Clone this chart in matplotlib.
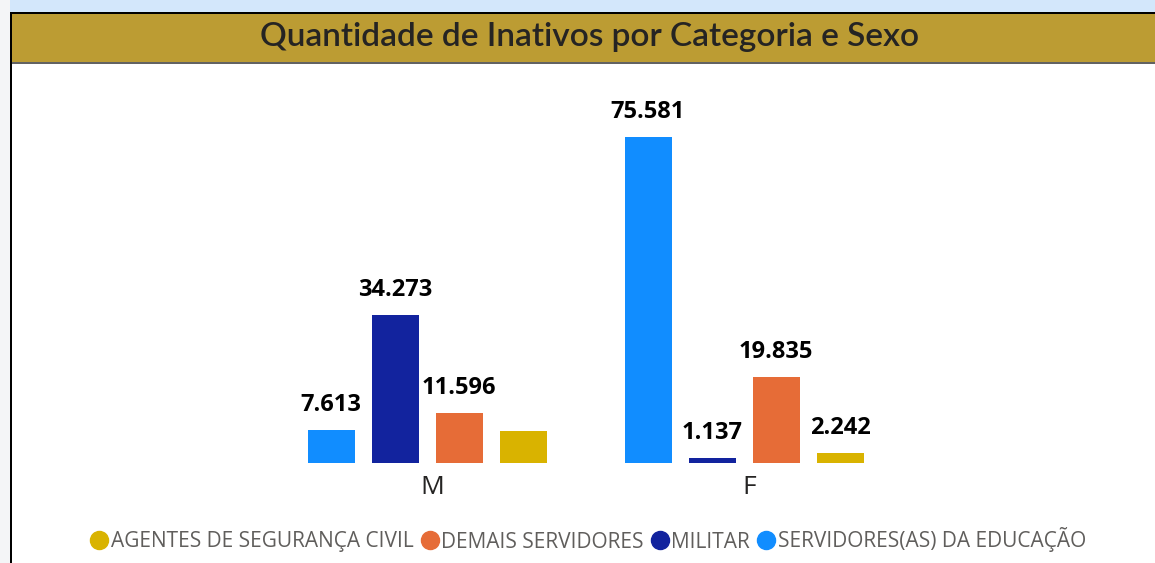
import matplotlib
matplotlib.use("Agg")
import matplotlib.pyplot as plt
import matplotlib.transforms as mtransforms
from matplotlib.patches import Rectangle
from matplotlib.lines import Line2D

# ---- data ----
categories = ["M", "F"]
series_names = ["SERVIDORES(AS) DA EDUCAÇÃO", "MILITAR", "DEMAIS SERVIDORES", "AGENTES DE SEGURANÇA CIVIL"]
servidores_educacao = [7613, 75581]
militar = [34273, 1137]
demais_servidores = [11596, 19835]
agentes_seguranca = [7400, 2242]
label_shown = [[True, True], [True, True], [True, True], [False, True]]
legend_order = ["AGENTES DE SEGURANÇA CIVIL", "DEMAIS SERVIDORES", "MILITAR", "SERVIDORES(AS) DA EDUCAÇÃO"]
title = "Quantidade de Inativos por Categoria e Sexo"

colors = {
    "SERVIDORES(AS) DA EDUCAÇÃO": "#118DFF",
    "MILITAR": "#12239E",
    "DEMAIS SERVIDORES": "#E66C37",
    "AGENTES DE SEGURANÇA CIVIL": "#D9B300",
}

W, H = 1155, 563
fig = plt.figure(figsize=(W / 100, H / 100), dpi=100)
fig.patch.set_facecolor("white")


def rect(x0, y0, x1, y1, color):
    fig.patches.append(Rectangle((x0 / W, 1 - y1 / H), (x1 - x0) / W, (y1 - y0) / H,
                                 transform=fig.transFigure, facecolor=color,
                                 edgecolor="none", zorder=0))


# page background and panel frame
rect(0, 0, W, 12, "#D3E7FB")
rect(0, 0, 10, H, "#F4F5F7")
rect(10, 12, W, 14, "#000000")
rect(10, 12, 12, H, "#000000")
rect(12, 14, W, 62, "#BC9C33")
rect(12, 62, W, 64, "#626262")

fig.text(590 / W, 1 - 37 / H, title, ha="center", va="center",
         fontsize=24, color="#252423", family="Lato", fontweight="semibold")

# ---- axes ----
unit = 317.0       # pixels per category step
m_px = 427.0
ax_l, ax_r, ax_b, ax_t = 110, 1060, 463, 100
ax = fig.add_axes([ax_l / W, 1 - ax_b / H, (ax_r - ax_l) / W, (ax_b - ax_t) / H])
ax.set_xlim((ax_l - m_px) / unit, (ax_r - m_px) / unit)
ymax = 75581 * (ax_b - ax_t) / (463 - 137)
ax.set_ylim(0, ymax)
for s in ax.spines.values():
    s.set_visible(False)
ax.set_yticks([])
ax.patch.set_alpha(0)

values = [servidores_educacao, militar, demais_servidores, agentes_seguranca]
slot = 64 / unit
bw = 47 / unit
xs = list(range(len(categories)))
for i, (name, vals) in enumerate(zip(series_names, values)):
    pos = [x + (i - 1.5) * slot for x in xs]
    ax.bar(pos, vals, width=bw, color=colors[name], label=name, zorder=2)
    for p, v, show in zip(pos, vals, label_shown[i]):
        if show:
            ax.annotate(f"{v:,}".replace(",", "."), xy=(p, v), xytext=(0, 13.7),
                        textcoords="offset points", ha="center", va="baseline",
                        fontsize=17, fontweight="bold", family="Open Sans",
                        color="#000000")

ax.set_xticks(xs)
ax.set_xticklabels(categories, fontsize=19, family="Open Sans", color="#252423")
ax.tick_params(axis="x", length=0, pad=9)
shift = mtransforms.ScaledTranslation(5 / 100, 0, fig.dpi_scale_trans)
for lbl in ax.get_xticklabels():
    lbl.set_transform(lbl.get_transform() + shift)

handles = [Line2D([], [], marker="o", linestyle="none", markersize=13,
                  markerfacecolor=colors[n], markeredgecolor=colors[n]) for n in legend_order]
fig.legend(handles, legend_order, loc="center", bbox_to_anchor=(588 / W, 1 - 540 / H),
           ncol=4, frameon=False, handlelength=0.9, handletextpad=0.12,
           columnspacing=0.3, borderpad=0,
           prop={"family": "Open Sans", "size": 15}, labelcolor="#605E5C")

fig.savefig("out.png", dpi=100, facecolor=fig.get_facecolor())
